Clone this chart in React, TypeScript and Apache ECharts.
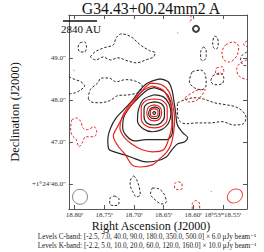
import React, { useEffect, useRef } from "react";
import * as echarts from "echarts";

// Axis ticks (RA seconds, Dec arcsec)
const raTicks = [18.8, 18.75, 18.7, 18.65, 18.6, 18.55];
const decTicks = [46, 47, 48, 49];
const raRange = [18.5094, 18.8094];
const decRange = [45.4, 50.02];

// C-band positive contours (solid black) [RA s, Dec ″]
const cPos1 = [[18.6563,48.50],[18.6422,48.43],[18.6359,48.24],[18.6328,48.00],[18.6297,47.71],[18.6266,47.40],[18.6172,47.21],[18.6094,47.10],[18.6141,47.00],[18.6266,46.95],[18.6359,46.81],[18.6453,46.64],[18.6609,46.55],[18.6797,46.52],[18.6984,46.60],[18.7156,46.69],[18.7328,46.76],[18.7422,46.83],[18.7438,47.05],[18.7391,47.33],[18.7297,47.57],[18.7172,47.76],[18.7016,48.00],[18.6891,48.24],[18.6766,48.40],[18.6563,48.50]];
const cPos2 = [[18.6656,48.29],[18.6484,48.19],[18.6391,48.00],[18.6359,47.71],[18.6344,47.40],[18.6359,47.17],[18.6453,47.05],[18.6609,47.05],[18.6797,47.05],[18.6984,47.02],[18.7109,47.12],[18.7188,47.33],[18.7172,47.57],[18.7078,47.81],[18.6922,48.05],[18.6766,48.24],[18.6656,48.29]];
const cPos3 = [[18.6656,48.12],[18.65,48.07],[18.6406,47.90],[18.6375,47.67],[18.6422,47.43],[18.6531,47.29],[18.6688,47.24],[18.6844,47.31],[18.6938,47.50],[18.6922,47.76],[18.6844,48.00],[18.6656,48.12]];
const cPos4 = [[18.6656,47.95],[18.6531,47.90],[18.6484,47.76],[18.6484,47.60],[18.6547,47.45],[18.6656,47.40],[18.6781,47.45],[18.6828,47.60],[18.6828,47.79],[18.6781,47.90],[18.6656,47.95]];
const cPos5 = [[18.6656,47.83],[18.6578,47.79],[18.6563,47.69],[18.6594,47.57],[18.6656,47.55],[18.6734,47.60],[18.675,47.69],[18.6719,47.79],[18.6656,47.83]];
const cPos6 = [[18.6656,47.73],[18.6633,47.69],[18.6656,47.65],[18.668,47.69],[18.6656,47.73]];

// K-band positive contours (solid red)
const kPos1 = [[18.6719,48.40],[18.6531,48.36],[18.6406,48.19],[18.6344,47.88],[18.6313,47.52],[18.6328,47.24],[18.6375,46.93],[18.6453,46.74],[18.6563,46.60],[18.6688,46.45],[18.6891,46.40],[18.7031,46.45],[18.7141,46.69],[18.7266,46.90],[18.7344,47.14],[18.7266,47.38],[18.7172,47.62],[18.7047,47.86],[18.6922,48.10],[18.6813,48.29],[18.6719,48.40]];
const kPos2 = [[18.6688,48.33],[18.6516,48.24],[18.6422,48.05],[18.6359,47.76],[18.6359,47.40],[18.6406,47.10],[18.65,46.81],[18.6688,46.76],[18.6859,46.81],[18.7016,46.93],[18.7156,47.10],[18.7234,47.33],[18.7203,47.57],[18.7109,47.81],[18.6969,48.05],[18.6828,48.24],[18.6688,48.33]];
const kPos3 = [[18.6656,48.02],[18.6516,47.98],[18.6438,47.81],[18.6438,47.55],[18.6516,47.38],[18.6656,47.33],[18.6797,47.38],[18.6875,47.55],[18.6875,47.81],[18.6797,47.98],[18.6656,48.02]];
const kPos4 = [[18.6656,47.88],[18.6563,47.83],[18.6531,47.69],[18.6563,47.55],[18.6656,47.50],[18.675,47.55],[18.6781,47.69],[18.675,47.83],[18.6656,47.88]];
const kPos5 = [[18.6656,47.79],[18.6594,47.74],[18.6594,47.64],[18.6656,47.60],[18.6719,47.64],[18.6719,47.74],[18.6656,47.79]];

// C-band negative contours (dashed black)
const cNeg1 = [[18.7906,49.36],[18.7828,49.38],[18.7797,49.26],[18.7828,49.14],[18.7906,49.14],[18.7938,49.26],[18.7906,49.36]];
const cNeg2 = [[18.7734,49.02],[18.7656,49.14],[18.75,49.24],[18.7344,49.31],[18.7297,49.48],[18.7203,49.57],[18.7047,49.50],[18.6891,49.31],[18.6734,49.17],[18.6641,49.12],[18.6672,49.02],[18.6797,48.95],[18.6953,48.88],[18.7109,48.93],[18.7266,49.00],[18.7391,48.95],[18.7516,49.02],[18.7641,48.95],[18.7734,49.02]];
const cNeg3 = [[18.8094,48.55],[18.7984,48.48],[18.7891,48.43],[18.7828,48.33],[18.7891,48.24],[18.7984,48.17],[18.8094,48.14]];
const cNeg4 = [[18.7766,48.02],[18.7734,48.24],[18.7609,48.40],[18.7547,48.52],[18.7422,48.52],[18.7297,48.43],[18.7141,48.48],[18.6984,48.45],[18.6859,48.33],[18.6906,48.19],[18.7078,48.12],[18.7266,48.10],[18.7406,47.98],[18.7578,47.93],[18.7719,47.95],[18.7766,48.02]];
const cNeg5 = [[18.5641,49.52],[18.5594,49.48],[18.5578,49.33],[18.5609,49.21],[18.5656,49.24],[18.5672,49.38],[18.5641,49.52]];
const cNeg6 = [[18.5828,49.26],[18.5781,49.19],[18.5781,49.05],[18.5828,48.93],[18.5875,48.98],[18.5875,49.14],[18.5828,49.26]];
const cNeg7 = [[18.6016,48.67],[18.5875,48.71],[18.5797,48.60],[18.5781,48.36],[18.5859,48.24],[18.5984,48.29],[18.6063,48.43],[18.6047,48.57],[18.6016,48.67]];
const cNeg8 = [[18.5672,48.57],[18.5547,48.64],[18.5484,48.52],[18.5516,48.38],[18.5641,48.36],[18.5703,48.45],[18.5672,48.57]];
const cNeg9 = [[18.5094,49.14],[18.5172,49.07],[18.5203,48.95],[18.5156,48.83],[18.5094,48.81]];
const cNeg10 = [[18.6266,47.93],[18.6141,48.00],[18.5984,48.05],[18.5828,48.02],[18.5641,47.93],[18.5438,47.88],[18.5281,47.83],[18.5156,47.71],[18.5109,47.57],[18.5156,47.43],[18.5313,47.40],[18.5516,47.48],[18.5719,47.45],[18.5938,47.45],[18.6125,47.43],[18.6234,47.50],[18.6266,47.71],[18.6266,47.93]];
const cNeg11 = [[18.70,46.19],[18.6953,46.10],[18.6906,45.90],[18.6891,45.74],[18.6953,45.69],[18.7016,45.81],[18.7063,45.98],[18.7047,46.12],[18.70,46.19]];
const cNeg12 = [[18.6688,45.90],[18.6578,45.88],[18.6484,45.74],[18.6453,45.57],[18.6531,45.52],[18.6641,45.62],[18.6719,45.76],[18.6688,45.90]];
const cNeg13 = [[18.7328,45.71],[18.725,45.64],[18.725,45.52],[18.7328,45.48],[18.7406,45.52],[18.7406,45.64],[18.7328,45.71]];

// K-band negative contours (dashed red)
const kNeg1 = [[18.8047,47.52],[18.7969,47.57],[18.7891,47.48],[18.7859,47.33],[18.7781,47.29],[18.7672,47.36],[18.7625,47.24],[18.7672,47.12],[18.7813,47.12],[18.7859,47.00],[18.7922,46.88],[18.7969,47.05],[18.8047,47.17],[18.8063,47.33],[18.8047,47.52]];
const kNeg2 = [[18.5453,49.31],[18.5328,49.38],[18.5234,49.26],[18.5266,49.05],[18.5391,48.90],[18.5484,48.95],[18.5516,49.14],[18.5453,49.31]];
const kNeg3 = [[18.5094,48.95],[18.5203,48.88],[18.5266,48.74],[18.5234,48.57],[18.5094,48.48]];
const kNeg4 = [[18.5609,48.76],[18.5516,48.79],[18.5484,48.67],[18.5547,48.60],[18.5625,48.64],[18.5609,48.76]];
const kNeg5 = [[18.6047,50.02],[18.6031,49.93],[18.6078,49.83]];
const kNeg6 = [[18.6141,48.05],[18.6016,48.17],[18.5891,48.24],[18.5797,48.24],[18.5859,48.10],[18.5953,47.98],[18.6078,47.95],[18.6141,48.05]];
const kNeg7 = [[18.625,46.05],[18.6188,46.00],[18.6188,45.88],[18.625,45.86],[18.6313,45.90],[18.6313,46.00],[18.625,46.05]];
const kNeg8 = [[18.6016,45.40],[18.6016,45.52],[18.5953,45.60],[18.5891,45.52],[18.5891,45.40]];
const kNeg9 = [[18.5094,49.40],[18.5156,49.33],[18.5094,49.26]];
const kNeg10 = [[18.6266,49.60],[18.6250,49.58]];
const kNeg11 = [[18.5703,45.83],[18.5688,45.81]];
const kNeg12 = [[18.8016,48.71],[18.8000,48.69]];

// Beams and markers [RA, Dec]
const cBeam = [18.7906, 45.69];
const kBeam = [18.5297, 45.71];
const marker = [18.5953, 49.69];

const title = "G34.43+00.24mm2 A";
const xName = "Right Ascension (J2000)";
const yName = "Declination (J2000)";
const scaleLabel = "2840 AU";
const levelsC = "Levels C-band: [-2.5, 7.0, 40.0, 90.0, 180.0, 350.0, 500.0] × 6.0 μJy beam⁻¹";
const levelsK = "Levels K-band: [-2.2, 5.0, 10.0, 20.0, 60.0, 120.0, 160.0] × 10.0 μJy beam⁻¹";

const BLACK = "#262626";
const RED = "#e8231f";
const FONT = "'Liberation Serif', 'DejaVu Serif', serif";

function lineSeries(data: number[][], color: string, dashed: boolean) {
  return {
    type: "line",
    data,
    smooth: 0.35,
    symbol: "none",
    showSymbol: false,
    silent: true,
    lineStyle: {
      color,
      width: dashed ? 1 : 1.2,
      type: dashed ? [2.5, 1.8] : "solid",
    },
    z: dashed ? 2 : 3,
  };
}

export default function App() {
  const ref = useRef<HTMLDivElement>(null);
  useEffect(() => {
    if (!ref.current) return;
    const chart = echarts.init(ref.current, null, { renderer: "svg" });
    const cPos = [cPos1, cPos2, cPos3, cPos4, cPos5, cPos6];
    const kPos = [kPos1, kPos2, kPos3, kPos4, kPos5];
    const cNeg = [cNeg1, cNeg2, cNeg3, cNeg4, cNeg5, cNeg6, cNeg7, cNeg8, cNeg9, cNeg10, cNeg11, cNeg12, cNeg13];
    const kNeg = [kNeg1, kNeg2, kNeg3, kNeg4, kNeg5, kNeg6, kNeg7, kNeg8, kNeg9, kNeg10, kNeg11, kNeg12];
    const axisLine = { show: true, lineStyle: { color: "#555", width: 1 } };
    const tickBase = { show: true, inside: true, length: 4, lineStyle: { color: "#555", width: 1 } };
    const labelStyle = { color: "#333", fontFamily: FONT, fontSize: 7 };
    const series: any[] = [];
    cNeg.forEach((d) => series.push(lineSeries(d, BLACK, true)));
    kNeg.forEach((d) => series.push(lineSeries(d, RED, true)));
    cPos.forEach((d) => series.push(lineSeries(d, BLACK, false)));
    kPos.forEach((d) => series.push(lineSeries(d, RED, false)));
    series.push({
      type: "scatter",
      silent: true,
      data: [cBeam],
      symbol: "circle",
      symbolSize: 15,
      itemStyle: {
        color: "#fff",
        borderColor: "#666",
        borderWidth: 1,
        decal: { symbol: "rect", symbolSize: 1, color: "#aaa", dashArrayX: [1, 0], dashArrayY: [1, 2], rotation: -Math.PI / 4 },
      },
      z: 4,
    });
    series.push({
      type: "scatter",
      silent: true,
      data: [kBeam],
      symbol: "circle",
      symbolSize: [16, 13],
      symbolRotate: 35,
      itemStyle: {
        color: "#fff",
        borderColor: RED,
        borderWidth: 1,
        decal: { symbol: "rect", symbolSize: 1, color: "#f3a09c", dashArrayX: [1, 0], dashArrayY: [1, 2], rotation: -Math.PI / 4 },
      },
      z: 4,
    });
    series.push({
      type: "scatter",
      silent: true,
      data: [marker],
      symbol: "emptyCircle",
      symbolSize: 6,
      itemStyle: { color: "#111", borderColor: "#111", borderWidth: 1 },
      z: 4,
    });

    const xFmt = (v: number) =>
      Math.abs(v - 18.55) < 1e-6 ? "18ʰ53ᵐ18.55ˢ" : v.toFixed(2) + "ˢ";
    const yFmt = (v: number) =>
      Math.abs(v - 46) < 1e-6 ? "+1°24′46.0″" : v.toFixed(1) + "″";

    chart.setOption({
      animation: false,
      backgroundColor: "#fff",
      grid: { left: 55, top: 15, width: 192, height: 194, containLabel: false },
      xAxis: [
        {
          type: "value",
          position: "bottom",
          inverse: true,
          min: raRange[0],
          max: raRange[1],
          axisLine,
          axisTick: { ...tickBase, customValues: raTicks },
          axisLabel: { ...labelStyle, customValues: raTicks, formatter: xFmt, margin: 2, hideOverlap: false },
          splitLine: { show: false },
        },
        {
          type: "value",
          position: "top",
          inverse: true,
          min: raRange[0],
          max: raRange[1],
          axisLine,
          axisTick: { ...tickBase, customValues: raTicks },
          axisLabel: { show: false },
          splitLine: { show: false },
        },
      ],
      yAxis: [
        {
          type: "value",
          position: "left",
          min: decRange[0],
          max: decRange[1],
          axisLine,
          axisTick: { ...tickBase, customValues: decTicks },
          axisLabel: { ...labelStyle, customValues: decTicks, formatter: yFmt, margin: 3 },
          splitLine: { show: false },
          name: yName,
          nameLocation: "middle",
          nameGap: 40,
          nameTextStyle: { fontFamily: FONT, fontSize: 12.5, color: "#111" },
        },
        {
          type: "value",
          position: "right",
          min: decRange[0],
          max: decRange[1],
          axisLine,
          axisTick: { ...tickBase, customValues: decTicks },
          axisLabel: { show: false },
          splitLine: { show: false },
        },
      ],
      series,
      graphic: [
        {
          type: "text",
          x: 151,
          y: 8,
          style: { text: title, fontFamily: FONT, fontSize: 15.8, fill: "#111", align: "center", verticalAlign: "middle" },
        },
        {
          type: "text",
          x: 151,
          y: 226,
          style: { text: xName, fontFamily: FONT, fontSize: 12, fill: "#111", align: "center", verticalAlign: "middle" },
        },
        {
          type: "line",
          shape: { x1: 63, y1: 21, x2: 97, y2: 21 },
          style: { stroke: "#111", lineWidth: 1.3 },
          z: 10,
        },
        {
          type: "text",
          x: 61,
          y: 23,
          style: { text: scaleLabel, fontFamily: FONT, fontSize: 11, fill: "#111" },
          z: 10,
        },
        {
          type: "text",
          x: 147,
          y: 237,
          style: { text: levelsC, fontFamily: FONT, fontSize: 7.2, fill: "#222", align: "center", verticalAlign: "middle" },
        },
        {
          type: "text",
          x: 147,
          y: 245.5,
          style: { text: levelsK, fontFamily: FONT, fontSize: 7.2, fill: "#222", align: "center", verticalAlign: "middle" },
        },
      ],
    });
    return () => chart.dispose();
  }, []);
  return (
    <div
      ref={ref}
      style={{ position: "fixed", left: 0, top: 0, width: 264, height: 252 }}
    />
  );
}
